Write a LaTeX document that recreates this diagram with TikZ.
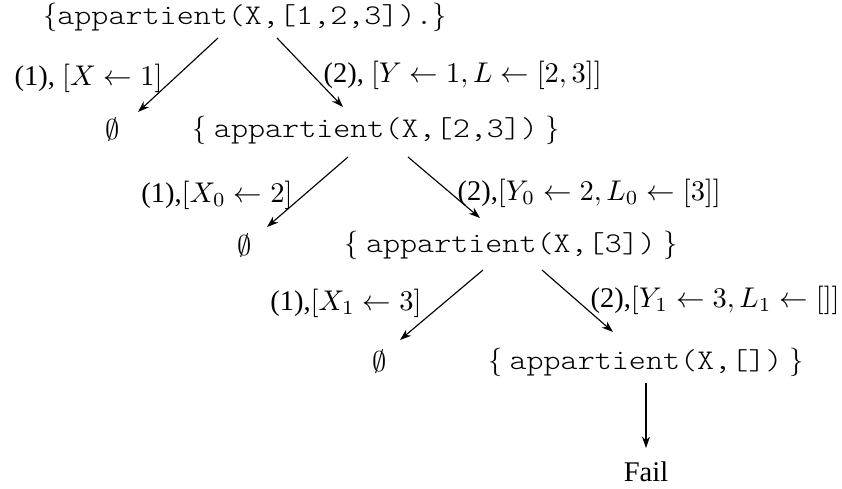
\documentclass[tikz,border=0pt]{standalone}
\usepackage{fontspec}
\setmainfont{Liberation Serif}
\setmonofont{Latin Modern Mono Light}[FakeStretch=1.14]
\usetikzlibrary{arrows.meta,calc}
\begin{document}
\begin{tikzpicture}[x=0.3509pt,y=-0.3509pt,
  goal/.style={inner sep=0pt,anchor=center},
  lab/.style={inner sep=0pt},
  arr/.style={-{Stealth[length=4pt,width=2.8pt]},line width=0.4pt}]
\useasboundingbox (0,0) rectangle (842,489);
\node[goal] (A) at (245,17) {$\{$\texttt{appartient(X,[1,2,3]).}$\}$};
\node[goal] (E1) at (113,130) {$\emptyset$};
\node[goal] (B) at (376,130) {$\{$ \texttt{appartient(X,[2,3])} $\}$};
\node[goal] (E2) at (245,246) {$\emptyset$};
\node[goal] (C) at (511,245) {$\{$ \texttt{appartient(X,[3])} $\}$};
\node[goal] (E3) at (380,362) {$\emptyset$};
\node[goal] (D) at (646,362) {$\{$ \texttt{appartient(X,[])} $\}$};
\node[goal] (F) at (646,472) {Fail};

\node[lab,anchor=east] (la1) at (163,78) {(1), $[X\leftarrow 1]$};
\node[lab,anchor=west] (lb1) at (323,75) {(2), $[Y\leftarrow 1, L\leftarrow [2,3]]$};
\node[lab,anchor=east] (la2) at (293,195) {(1),$[X_0\leftarrow 2]$};
\node[lab,anchor=west] (lb2) at (457,193) {(2),$[Y_0\leftarrow 2, L_0\leftarrow [3]]$};
\node[lab,anchor=east] (la3) at (422,303) {(1),$[X_1\leftarrow 3]$};
\node[lab,anchor=west] (lb3) at (590,300) {(2),$[Y_1\leftarrow 3, L_1\leftarrow []]$};

\draw[arr] ($(A)+(-27,21)$) -- ($(E1)+(25,-18)$);
\draw[arr] ($(A)+(32,21)$) -- ($(B)+(-33,-23)$);
\draw[arr] ($(B)+(-28,27)$) -- ($(E2)+(22,-19)$);
\draw[arr] ($(B)+(32,27)$) -- ($(C)+(-31,-27)$);
\draw[arr] ($(C)+(-28,25)$) -- ($(E3)+(20,-22)$);
\draw[arr] ($(C)+(31,25)$) -- ($(D)+(-33,-30)$);
\draw[arr] ($(D)+(0,21)$) -- ($(F)+(0,-24)$);
\end{tikzpicture}
\end{document}
